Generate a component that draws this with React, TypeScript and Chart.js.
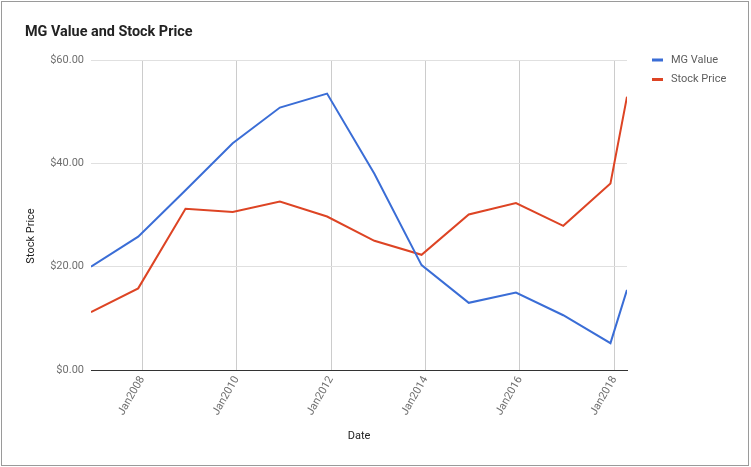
import React, { useEffect, useRef } from "react";
import { Chart, registerables } from "chart.js";

Chart.register(...registerables);

const dates = [
  "2006-12-01", "2007-12-01", "2008-12-01", "2009-12-01", "2010-12-01", "2011-12-01",
  "2012-12-01", "2013-12-01", "2014-12-01", "2015-12-01", "2016-12-01", "2017-12-01", "2018-04-08",
];
const mgValue = [20.0, 25.8, 34.8, 43.9, 50.8, 53.5, 38.0, 20.3, 13.0, 15.0, 10.6, 5.2, 15.5];
const stockPrice = [11.2, 15.8, 31.2, 30.6, 32.6, 29.7, 25.0, 22.3, 30.1, 32.3, 27.9, 36.1, 52.9];
const tickYears = [2008, 2010, 2012, 2014, 2016, 2018];
const seriesNames = ["MG Value", "Stock Price"];
const seriesColors = ["#3a6dd6", "#dd4424"];
const chartTitle = "MG Value and Stock Price";
const yTitle = "Stock Price";
const xTitle = "Date";

const FONT = "Roboto, 'Noto Sans', Arial, sans-serif";

export default function App() {
  const ref = useRef<HTMLCanvasElement | null>(null);

  useEffect(() => {
    if (!ref.current) return;
    const xs = dates.map((d) => new Date(d + "T00:00:00Z").getTime());
    const toPts = (vals: number[]) => vals.map((v, i) => ({ x: xs[i], y: v }));

    const textPlugin = {
      id: "customText",
      afterDraw(chart: any) {
        const ctx = chart.ctx as CanvasRenderingContext2D;
        const area = chart.chartArea;
        ctx.save();
        // title
        ctx.fillStyle = "#222222";
        ctx.font = `bold 14.4px ${FONT}`;
        ctx.textAlign = "left";
        ctx.textBaseline = "middle";
        ctx.fillText(chartTitle, 25, 32);
        // x title
        ctx.font = `11px ${FONT}`;
        ctx.textAlign = "center";
        ctx.fillText(xTitle, (area.left + area.right) / 2, 436);
        // y title
        ctx.save();
        ctx.translate(31, 236);
        ctx.rotate(-Math.PI / 2);
        ctx.fillText(yTitle, 0, 0);
        ctx.restore();
        // legend
        ctx.textAlign = "left";
        ctx.font = `11px ${FONT}`;
        seriesNames.forEach((name, i) => {
          const y = 60 + i * 19.5;
          ctx.fillStyle = seriesColors[i];
          ctx.fillRect(652, y - 1.5, 11, 3);
          ctx.fillStyle = "#5e5e5e";
          ctx.fillText(name, 671, y);
        });
        ctx.restore();
      },
    };

    const chart = new Chart(ref.current, {
      type: "line",
      data: {
        datasets: [
          {
            label: seriesNames[0],
            data: toPts(mgValue),
            borderColor: seriesColors[0],
            backgroundColor: seriesColors[0],
            borderWidth: 2,
            pointRadius: 0,
            tension: 0,
          },
          {
            label: seriesNames[1],
            data: toPts(stockPrice),
            borderColor: seriesColors[1],
            backgroundColor: seriesColors[1],
            borderWidth: 2,
            pointRadius: 0,
            tension: 0,
          },
        ],
      },
      options: {
        animation: false,
        responsive: false,
        maintainAspectRatio: false,
        layout: { padding: { left: 0, top: 60, right: 124, bottom: 0 } },
        plugins: {
          legend: { display: false },
          title: { display: false },
          tooltip: { enabled: false },
        },
        scales: {
          x: {
            type: "linear",
            min: xs[0],
            max: xs[xs.length - 1],
            afterBuildTicks: (scale: any) => {
              scale.ticks = tickYears.map((y) => ({ value: Date.UTC(y, 0, 1) }));
            },
            afterFit: (scale: any) => {
              scale.height = 97;
            },
            ticks: {
              autoSkip: false,
              minRotation: 60,
              maxRotation: 60,
              padding: 4,
              color: "#6f6f6f",
              font: { family: FONT, size: 11 },
              callback: (v: any) => "Jan" + new Date(Number(v)).getUTCFullYear(),
            },
            grid: { color: "#cccccc", drawTicks: false, lineWidth: 1 },
            border: { display: true, color: "#333333", width: 1 },
          },
          y: {
            min: 0,
            max: 60,
            afterFit: (scale: any) => {
              scale.width = 91;
            },
            ticks: {
              stepSize: 20,
              padding: 7,
              color: "#6f6f6f",
              font: { family: FONT, size: 11 },
              callback: (v: any) => "$" + Number(v).toFixed(2),
            },
            grid: {
              drawTicks: false,
              color: (c: any) => (c.tick && c.tick.value === 0 ? "#333333" : "#e0e0e0"),
              lineWidth: 1,
            },
            border: { display: false },
          },
        },
      },
      plugins: [textPlugin],
    });
    return () => chart.destroy();
  }, []);

  return (
    <div style={{ position: "fixed", left: 0, top: 0, width: 751, height: 467, background: "#fff" }}>
      <canvas ref={ref} width={751} height={467} style={{ width: 751, height: 467, display: "block" }} />
      <div
        style={{
          position: "absolute",
          left: 1,
          top: 1,
          width: 746,
          height: 463,
          border: "1px solid #9a9a9a",
          pointerEvents: "none",
        }}
      />
    </div>
  );
}
